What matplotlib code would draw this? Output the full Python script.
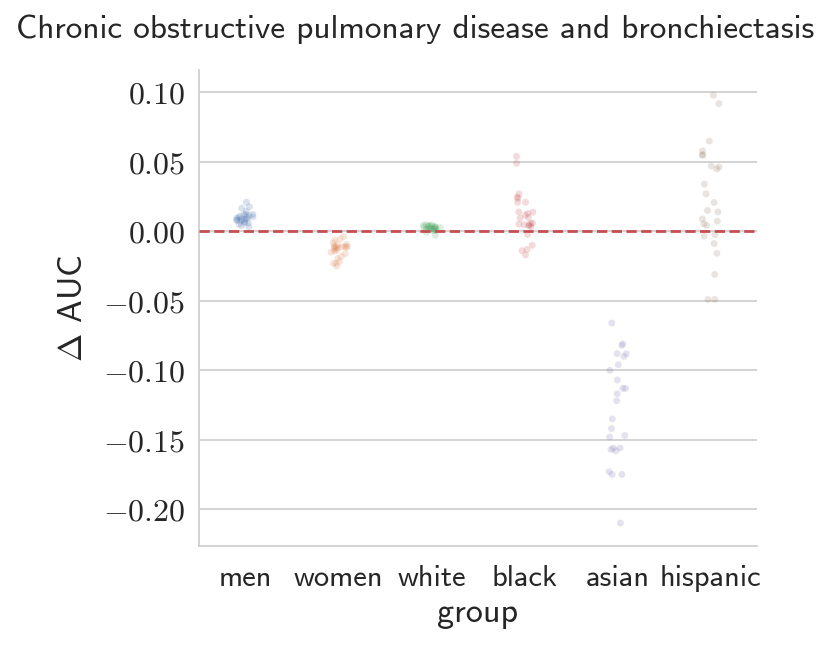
import numpy as np
import pandas as pd
import matplotlib
matplotlib.use("Agg")
import matplotlib.pyplot as plt
import seaborn as sns
from matplotlib.ticker import FuncFormatter, MultipleLocator

groups = ["men", "women", "white", "black", "asian", "hispanic"]

men = [0.021, 0.0177, 0.0167, 0.0122, 0.0122, 0.0105, 0.0098, 0.011, 0.0081,
       0.0086, 0.008, 0.006, 0.006, 0.0043, 0.0034, 0.009, 0.0095, 0.0102,
       0.0075, 0.012, 0.0088, 0.0112, 0.007, 0.0052, 0.0145]
women = [-0.0038, -0.0062, -0.0081, -0.0117, -0.0093, -0.011, -0.0112, -0.0115,
         -0.0108, -0.0136, -0.015, -0.018, -0.0217, -0.023, -0.023, -0.025,
         -0.012, -0.0105, -0.0125, -0.0098, -0.016, -0.0055, -0.0113, -0.0142,
         -0.0195]
white = [0.0014, 0.0048, 0.0045, 0.003, 0.002, 0.0014, -0.0029, 0.0007, 0.0035,
         0.0025, 0.0041, 0.0018, 0.0031, 0.0009, 0.0038, 0.0022, 0.0044, 0.0012,
         0.0027, -0.0008, 0.0033, 0.0016, 0.0024, 0.004, 0.0005]
black = [0.054, 0.049, 0.027, 0.024, 0.0246, 0.021, 0.021, 0.014, 0.0139, 0.013,
         0.0117, 0.010, 0.0095, 0.006, 0.0057, 0.0048, 0.0048, 0.0034, 0.004,
         -0.0022, -0.010, -0.013, -0.0139, -0.017, 0.0052]
asian = [-0.066, -0.082, -0.081, -0.088, -0.090, -0.096, -0.100, -0.107, -0.113,
         -0.113, -0.117, -0.122, -0.135, -0.142, -0.148, -0.147, -0.156, -0.157,
         -0.158, -0.173, -0.175, -0.175, -0.210, -0.088, -0.156]
hispanic = [0.098, 0.092, 0.065, 0.058, 0.055, 0.055, 0.0464, 0.047, 0.045,
            0.034, 0.027, 0.0208, 0.014, 0.015, 0.009, 0.0074, 0.0043, -0.0024,
            -0.0033, -0.0088, -0.0158, -0.031, -0.049, -0.049, 0.0055]

values = {"men": men, "women": women, "white": white, "black": black,
          "asian": asian, "hispanic": hispanic}
df = pd.DataFrame([(g, v) for g in groups for v in values[g]],
                  columns=["group", "dAUC"])

sns.set_theme(style="whitegrid", palette="deep")
plt.rcParams["font.family"] = ["cmss10", "DejaVu Sans"]
plt.rcParams["mathtext.fontset"] = "cm"
plt.rcParams["axes.formatter.use_mathtext"] = True
plt.rcParams["axes.unicode_minus"] = True

fig = plt.figure(figsize=(8.31, 6.45), dpi=100)
ax = fig.add_axes([0.2395, 0.1535, 0.6715, 0.738])

np.random.seed(3)
sns.stripplot(data=df, x="group", y="dAUC", hue="group", order=groups,
              hue_order=groups, palette="deep", alpha=0.2, size=5,
              jitter=True, legend=False, ax=ax)

ax.axhline(0, color="#C44E52", linestyle="--", linewidth=2, zorder=3)

ax.set_ylim(-0.2265, 0.1162)
ax.set_xlim(-0.5, 5.5)
ax.yaxis.set_major_locator(MultipleLocator(0.05))
ax.yaxis.set_major_formatter(FuncFormatter(lambda v, p: "$%s$" % ("%.2f" % v).replace("-0.00", "0.00")))
ax.tick_params(axis="y", labelsize=23, pad=4)
ax.tick_params(axis="x", labelsize=22, pad=8)
ax.grid(axis="x", visible=False)
ax.grid(axis="y", color="#cccccc", linewidth=1.2)
sns.despine(ax=ax)
for s in ["left", "bottom"]:
    ax.spines[s].set_color("#cccccc")
    ax.spines[s].set_linewidth(1.2)

ax.set_xlabel("group", fontsize=24.5, labelpad=4)
ax.set_ylabel(r"$\Delta$ AUC", fontsize=24.5, labelpad=10)
fig.suptitle("Chronic obstructive pulmonary disease and bronchiectasis",
             fontsize=24, y=0.978)

fig.savefig("out.png", dpi=100)
